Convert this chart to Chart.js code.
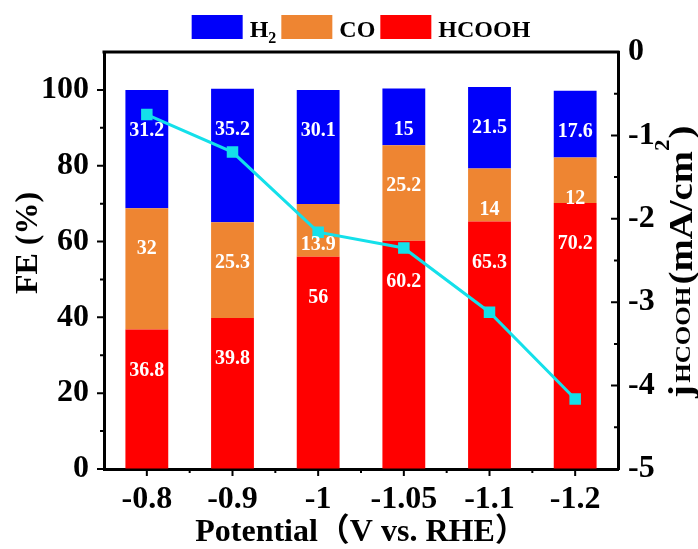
<!DOCTYPE html>
<html>
<head>
<meta charset="utf-8">
<script src="https://cdn.jsdelivr.net/npm/chart.js@4.4.1/dist/chart.umd.min.js"></script>
<style>
  html, body { margin: 0; padding: 0; background: #fff; }
</style>
</head>
<body>
<canvas id="feChart" width="698" height="549"></canvas>
<script>
const potentials = ['-0.8', '-0.9', '-1', '-1.05', '-1.1', '-1.2'];
const hcooh = [36.8, 39.8, 56, 60.2, 65.3, 70.2];
const co = [32, 25.3, 13.9, 25.2, 14, 12];
const h2 = [31.2, 35.2, 30.1, 15, 21.5, 17.6];
const jHcooh = [-0.75, -1.2, -2.16, -2.35, -3.12, -4.16];
const feTicks = [0, 20, 40, 60, 80, 100];
const jTicks = [0, -1, -2, -3, -4, -5];

const SERIF = '"Liberation Serif", "Times New Roman", "Noto Sans CJK SC", serif';
const BLUE = '#0000FA';
const ORANGE = '#EE8532';
const RED = '#FF0000';
const CYAN = '#14E0EA';

// white numbers inside each bar segment, a fixed distance below its top
const barLabels = {
  id: 'barLabels',
  afterDatasetsDraw(chart) {
    const ctx = chart.ctx;
    ctx.save();
    ctx.fillStyle = '#fff';
    ctx.font = 'bold 20px ' + SERIF;
    ctx.textAlign = 'center';
    ctx.textBaseline = 'middle';
    chart.data.datasets.forEach((ds, i) => {
      if (ds.type === 'line') return;
      chart.getDatasetMeta(i).data.forEach((bar, j) => {
        ctx.fillText(String(ds.data[j]), bar.x, bar.y + 41);
      });
    });
    ctx.restore();
  }
};

// legend on top, with subscript digits
const topLegend = {
  id: 'topLegend',
  afterDraw(chart) {
    const ctx = chart.ctx;
    const items = chart.data.datasets.filter(d => d.type !== 'line').reverse();
    const big = 'bold 24px ' + SERIF, small = 'bold 16px ' + SERIF;
    const boxW = 51, boxH = 24, gapText = 7, gapItem = 5;
    ctx.save();
    const parts = items.map(d => {
      const m = d.label.match(/^(\D+)(\d*)$/);
      ctx.font = big;
      const w1 = ctx.measureText(m[1]).width;
      ctx.font = small;
      const w2 = m[2] ? ctx.measureText(m[2]).width : 0;
      return { main: m[1], sub: m[2], w1, w2, color: d.backgroundColor };
    });
    const total = parts.reduce((s, p) => s + boxW + gapText + p.w1 + p.w2, 0) + gapItem * (parts.length - 1);
    let x = (chart.chartArea.left + chart.chartArea.right) / 2 - total / 2;
    ctx.textBaseline = 'alphabetic';
    ctx.textAlign = 'left';
    parts.forEach(p => {
      ctx.fillStyle = p.color;
      ctx.fillRect(x, 15, boxW, boxH);
      x += boxW + gapText;
      ctx.fillStyle = '#000';
      ctx.font = big;
      ctx.fillText(p.main, x, 37);
      x += p.w1;
      if (p.sub) {
        ctx.font = small;
        ctx.fillText(p.sub, x, 43);
        x += p.w2;
      }
      x += gapItem;
    });
    ctx.restore();
  }
};

// tick marks (major + minor), top frame and the two vertical titles
const axisMarks = {
  id: 'axisMarks',
  afterDraw(chart) {
    const { ctx, chartArea: a, scales: { x, y, y1 } } = chart;
    const mid = arr => arr.slice(1).map((v, i) => (v + arr[i]) / 2);
    ctx.save();
    ctx.strokeStyle = '#000';
    ctx.lineWidth = 2;
    ctx.beginPath();
    feTicks.forEach(v => { const p = y.getPixelForValue(v); ctx.moveTo(a.left, p); ctx.lineTo(a.left - 7, p); });
    mid(feTicks).forEach(v => { const p = y.getPixelForValue(v); ctx.moveTo(a.left, p); ctx.lineTo(a.left - 4, p); });
    jTicks.forEach(v => { const p = y1.getPixelForValue(v); ctx.moveTo(a.right, p); ctx.lineTo(a.right - 7, p); });
    mid(jTicks).forEach(v => { const p = y1.getPixelForValue(v); ctx.moveTo(a.right, p); ctx.lineTo(a.right - 4, p); });
    const centers = potentials.map((_, i) => x.getPixelForValue(i));
    centers.forEach(p => { ctx.moveTo(p, a.bottom); ctx.lineTo(p, a.bottom + 7); });
    mid(centers).forEach(p => { ctx.moveTo(p, a.bottom); ctx.lineTo(p, a.bottom + 4); });
    ctx.stroke();
    ctx.lineWidth = 3;
    ctx.beginPath();
    ctx.moveTo(a.left - 1.5, a.top);
    ctx.lineTo(a.right + 1.5, a.top);
    ctx.stroke();
    ctx.fillStyle = '#000';
    ctx.textAlign = 'left';

    // FE (%) on the left, sitting a little above the middle
    ctx.save();
    ctx.translate(29, 243);
    ctx.rotate(-Math.PI / 2);
    ctx.font = 'bold 32px ' + SERIF;
    ctx.textAlign = 'center';
    ctx.textBaseline = 'middle';
    ctx.fillText('FE (%)', 0, 0);
    ctx.restore();

    // j_HCOOH(mA/cm^2), reading upwards
    ctx.translate(692, 398);
    ctx.rotate(-Math.PI / 2);
    ctx.scale(1.14, 1);
    ctx.textBaseline = 'alphabetic';
    const pieces = [
      { t: 'j', size: 34, dy: 0, gap: 2 },
      { t: 'HCOOH', size: 22, dy: -2, gap: 2 },
      { t: '(mA/cm', size: 34, dy: 0, gap: 0 },
      { t: '2', size: 20, dy: -23, gap: 1 },
      { t: ')', size: 34, dy: 0, gap: 0 }
    ];
    let cx = 0;
    pieces.forEach(pc => {
      ctx.font = 'bold ' + pc.size + 'px ' + SERIF;
      ctx.fillText(pc.t, cx, pc.dy);
      cx += ctx.measureText(pc.t).width + pc.gap;
    });
    ctx.restore();
  }
};

const tickFont = { family: SERIF, size: 32, weight: 'bold' };
const titleFont = { family: SERIF, size: 32, weight: 'bold', lineHeight: 1 };
const axisGrid = { drawOnChartArea: false, drawTicks: false };
const axisBorder = { color: '#000', width: 3 };

new Chart(document.getElementById('feChart'), {
  type: 'bar',
  data: {
    labels: potentials,
    datasets: [
      { label: 'HCOOH', data: hcooh, backgroundColor: RED, yAxisID: 'y', order: 1 },
      { label: 'CO', data: co, backgroundColor: ORANGE, yAxisID: 'y', order: 1 },
      { label: 'H2', data: h2, backgroundColor: BLUE, yAxisID: 'y', order: 1 },
      {
        type: 'line', label: 'jHCOOH', data: jHcooh, yAxisID: 'y1', order: 0,
        borderColor: CYAN, backgroundColor: CYAN, borderWidth: 3,
        pointStyle: 'rect', pointRadius: 6, pointHoverRadius: 6, tension: 0
      }
    ]
  },
  options: {
    responsive: false,
    animation: false,
    devicePixelRatio: 1,
    barPercentage: 0.5,
    categoryPercentage: 1.0,
    layout: { padding: { top: 52, left: 0, right: 0, bottom: 0 } },
    plugins: {
      legend: { display: false },
      tooltip: { enabled: false }
    },
    scales: {
      x: {
        stacked: true,
        grid: axisGrid,
        border: axisBorder,
        ticks: { color: '#000', font: tickFont, padding: 12, maxRotation: 0, autoSkip: false },
        title: { display: true, text: 'Potential（V vs. RHE）', color: '#000', font: titleFont, padding: { top: 0, bottom: 0 } },
        afterFit: s => { s.height = 80; }
      },
      y: {
        position: 'left',
        stacked: true,
        min: 0,
        max: 110,
        afterBuildTicks: s => { s.ticks = feTicks.map(v => ({ value: v })); },
        grid: axisGrid,
        border: axisBorder,
        ticks: { color: '#000', font: tickFont, padding: 15 },
        afterFit: s => { s.width = 104; }
      },
      y1: {
        position: 'right',
        min: -5,
        max: 0,
        afterBuildTicks: s => { s.ticks = jTicks.map(v => ({ value: v })); },
        grid: axisGrid,
        border: axisBorder,
        ticks: { color: '#000', font: tickFont, padding: 10 },
        afterFit: s => { s.width = 80; }
      }
    }
  },
  plugins: [barLabels, topLegend, axisMarks]
});
</script>
</body>
</html>
